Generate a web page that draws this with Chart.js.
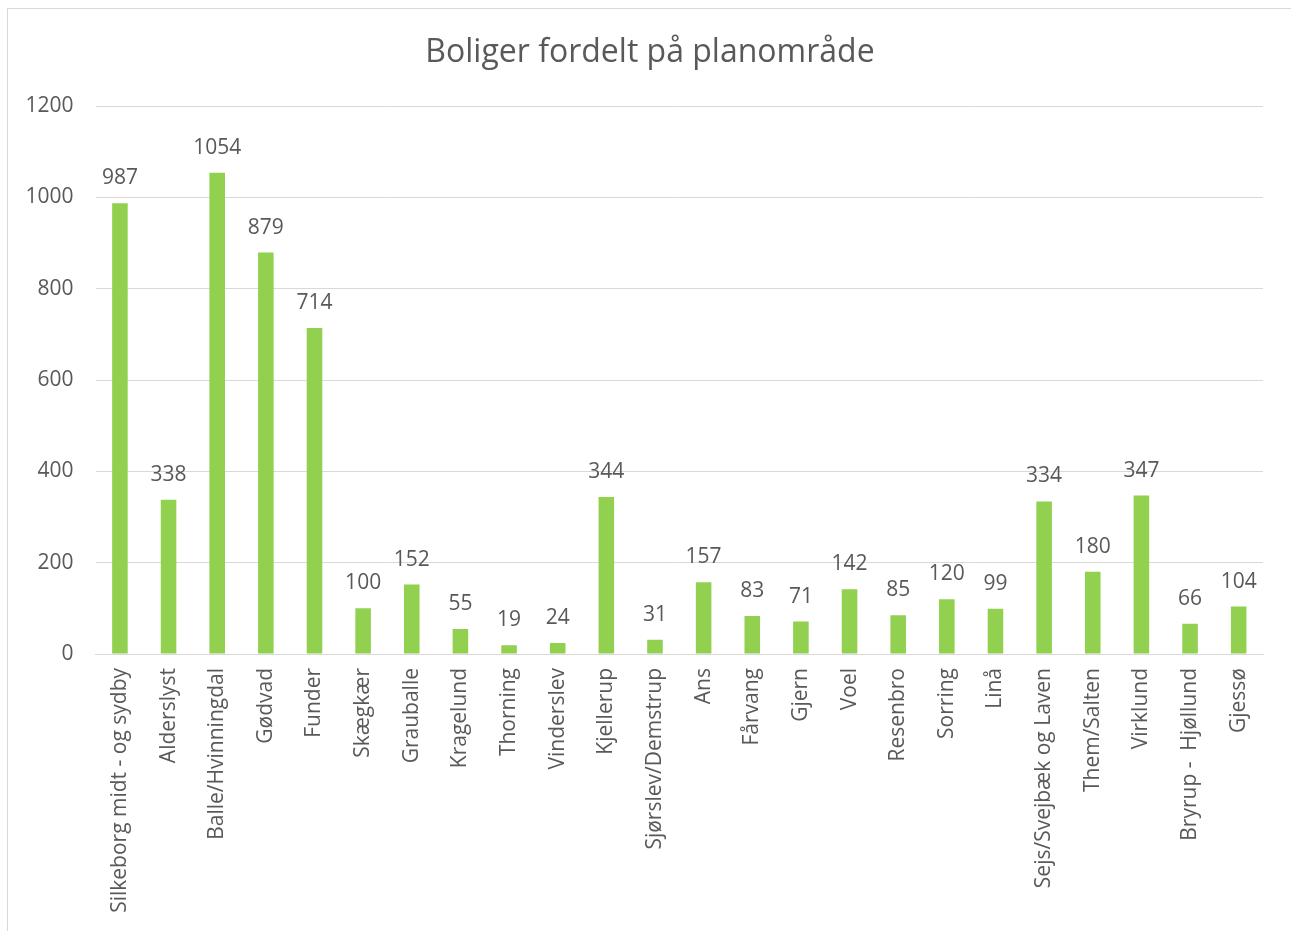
<!DOCTYPE html>
<html>
<head>
<meta charset="utf-8">
<script src="https://cdn.jsdelivr.net/npm/chart.js@4"></script>
<style>
  html, body { margin: 0; padding: 0; background: #ffffff; overflow: hidden; }
  #wrap { position: relative; width: 1291px; height: 931px; }
  #frame { position: absolute; left: 7px; top: 8px; width: 1320px; height: 960px; border: 1px solid #d9d9d9; pointer-events: none; }
  canvas { display: block; }
</style>
</head>
<body>
<div id="wrap">
  <canvas id="c" width="1291" height="931"></canvas>
  <div id="frame"></div>
</div>
<script>
const titleText = "Boliger fordelt på planområde";
const categories = [
  "Silkeborg midt - og sydby", "Alderslyst", "Balle/Hvinningdal", "Gødvad", "Funder",
  "Skægkær", "Grauballe", "Kragelund", "Thorning", "Vinderslev", "Kjellerup",
  "Sjørslev/Demstrup", "Ans", "Fårvang", "Gjern", "Voel", "Resenbro", "Sorring",
  "Linå", "Sejs/Svejbæk og Laven", "Them/Salten", "Virklund", "Bryrup -  Hjøllund", "Gjessø"
];
const values = [987, 338, 1054, 879, 714, 100, 152, 55, 19, 24, 344, 31, 157, 83, 71, 142, 85, 120, 99, 334, 180, 347, 66, 104];
const yTicks = [0, 200, 400, 600, 800, 1000, 1200];

const textColor = "#595959";
const fontFamily = "'Open Sans', 'DejaVu Sans', sans-serif";

const dataLabels = {
  id: "dataLabels",
  afterDatasetsDraw(chart) {
    const ctx = chart.ctx;
    const meta = chart.getDatasetMeta(0);
    ctx.save();
    ctx.fillStyle = textColor;
    ctx.font = "21px " + fontFamily;
    ctx.textAlign = "center";
    ctx.textBaseline = "alphabetic";
    meta.data.forEach((bar, i) => {
      ctx.fillText(String(chart.data.datasets[0].data[i]), bar.x, bar.y - 19);
    });
    ctx.restore();
  }
};

const chartTitle = {
  id: "chartTitle",
  afterDraw(chart) {
    const ctx = chart.ctx;
    ctx.save();
    ctx.fillStyle = textColor;
    ctx.font = "32px " + fontFamily;
    ctx.textAlign = "center";
    ctx.textBaseline = "middle";
    ctx.fillText(titleText, 650, 53);
    ctx.restore();
  }
};

new Chart(document.getElementById("c"), {
  type: "bar",
  data: {
    labels: categories,
    datasets: [{
      data: values,
      backgroundColor: "#92d050",
      borderWidth: 0,
      barPercentage: 1.0,
      categoryPercentage: 0.32
    }]
  },
  options: {
    responsive: false,
    animation: false,
    devicePixelRatio: 1,
    layout: { padding: { left: 0, right: 28, top: 106, bottom: 0 } },
    plugins: {
      legend: { display: false },
      tooltip: { enabled: false },
      title: { display: false }
    },
    scales: {
      x: {
        grid: { display: false, drawTicks: false },
        border: { display: true, color: "#d9d9d9", width: 1 },
        ticks: {
          color: textColor,
          font: { family: fontFamily, size: 21 },
          minRotation: 90,
          maxRotation: 90,
          autoSkip: false,
          padding: 14
        },
        afterFit(scale) { scale.height = 277; }
      },
      y: {
        min: 0,
        max: 1200,
        afterBuildTicks(scale) { scale.ticks = yTicks.map(v => ({ value: v })); },
        grid: { color: "#d9d9d9", lineWidth: 1, drawTicks: false },
        border: { display: false },
        ticks: {
          color: textColor,
          font: { family: fontFamily, size: 21 },
          padding: 22,
          callback: (v) => String(v)
        },
        afterFit(scale) { scale.width = 95.6; }
      }
    }
  },
  plugins: [dataLabels, chartTitle]
});
</script>
</body>
</html>
